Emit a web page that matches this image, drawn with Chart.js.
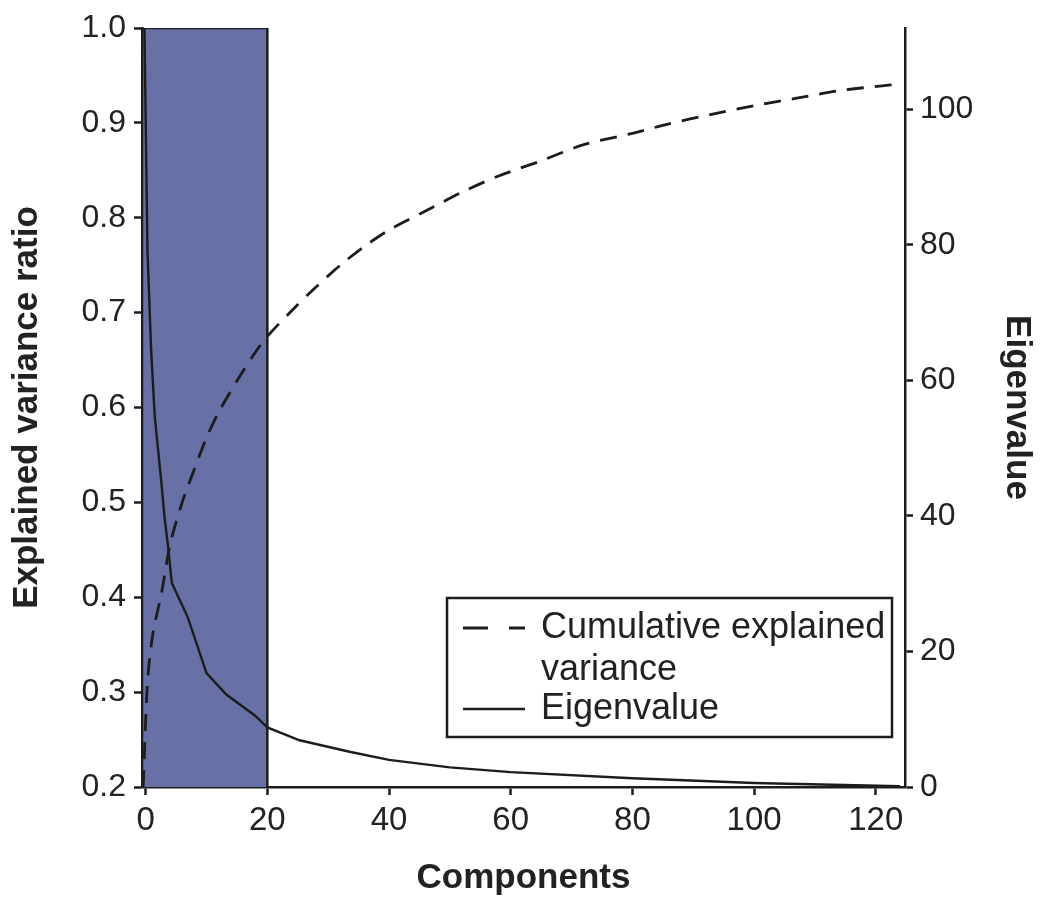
<!DOCTYPE html>
<html>
<head>
<meta charset="utf-8">
<script src="https://cdn.jsdelivr.net/npm/chart.js@4.4.0/dist/chart.umd.min.js"></script>
<style>
  body { margin: 0; background: #fff; }
</style>
</head>
<body>
<canvas id="chart" width="1042" height="901"></canvas>
<script>
// tick labels
const componentTicks = [0, 20, 40, 60, 80, 100, 120];
const ratioTicks = [0.2, 0.3, 0.4, 0.5, 0.6, 0.7, 0.8, 0.9, 1.0];
const eigenTicks = [0, 20, 40, 60, 80, 100];

// axis ranges
const componentRange = [-0.6, 124.8];
const ratioRange = [0.2, 1.0];
const eigenRange = [0, 112];

// retained components (shaded block)
const retainedUpTo = 20;

// cumulative explained variance (left axis)
const cumComponents = [-0.4, 0.3, 1.2, 2.6, 4, 6, 8, 10, 12, 15, 18, 20, 24, 28, 32, 36, 40, 46, 52, 58, 65, 72, 80, 86, 93, 100, 107, 114, 121, 124];
const cumRatio = [0.2, 0.31, 0.362, 0.404, 0.455, 0.5, 0.535, 0.568, 0.595, 0.628, 0.658, 0.675, 0.702, 0.727, 0.75, 0.77, 0.787, 0.807, 0.827, 0.844, 0.86, 0.877, 0.889, 0.899, 0.909, 0.918, 0.926, 0.934, 0.939, 0.941];

// eigenvalues (right axis)
const eigComponents = [-0.2, 0.3, 0.9, 1.5, 2.6, 3.1, 3.7, 4.3, 6.9, 10, 13.3, 17.9, 20, 25.3, 33.5, 40, 50, 60, 80, 100, 124];
const eigValues = [112, 79, 64.5, 54.6, 44.8, 39.8, 35.4, 30.1, 25.1, 16.8, 13.6, 10.6, 8.8, 6.9, 5.2, 4.0, 2.9, 2.2, 1.3, 0.6, 0.1];

const ink = '#1c1c1c';

function pts(xs, ys) {
  return xs.map((x, i) => ({ x: x, y: ys[i] }));
}

function fixTicks(values) {
  return function (scale) {
    scale.ticks = values.map(v => ({ value: v }));
  };
}

const boxLegend = {
  id: 'boxLegend',
  afterDraw(chart) {
    const ctx = chart.ctx;
    const a = chart.chartArea;
    const x0 = a.right - 458, y0 = a.bottom - 189, w = 445, h = 139;
    ctx.save();
    ctx.fillStyle = '#fff';
    ctx.fillRect(x0, y0, w, h);
    ctx.strokeStyle = ink;
    ctx.lineWidth = 2.5;
    ctx.strokeRect(x0, y0, w, h);

    ctx.font = '36px "Liberation Sans", Arial, sans-serif';
    ctx.fillStyle = '#222';
    ctx.textBaseline = 'middle';
    const rows = [
      { ds: chart.data.datasets[0], lines: ['Cumulative explained', 'variance'], y: 30, dash: [25, 21] },
      { ds: chart.data.datasets[1], lines: ['Eigenvalue'], y: 111, dash: [] }
    ];
    rows.forEach(r => {
      ctx.beginPath();
      ctx.setLineDash(r.dash);
      ctx.lineWidth = r.ds.borderWidth;
      ctx.strokeStyle = r.ds.borderColor;
      ctx.moveTo(x0 + 16, y0 + r.y);
      ctx.lineTo(x0 + 78, y0 + r.y);
      ctx.stroke();
      ctx.setLineDash([]);
      r.lines.forEach((t, i) => ctx.fillText(t, x0 + 94, y0 + r.y + i * 42));
    });
    ctx.restore();
  }
};

new Chart(document.getElementById('chart'), {
  type: 'line',
  data: {
    datasets: [
      {
        label: 'Cumulative explained variance',
        data: pts(cumComponents, cumRatio),
        yAxisID: 'y',
        borderColor: ink,
        borderWidth: 2.8,
        borderDash: [17, 11],
        pointRadius: 0,
        tension: 0.3,
        order: 1
      },
      {
        label: 'Eigenvalue',
        data: pts(eigComponents, eigValues),
        yAxisID: 'y1',
        borderColor: ink,
        borderWidth: 2.4,
        pointRadius: 0,
        tension: 0,
        order: 0
      },
      {
        label: 'Retained',
        data: [
          { x: componentRange[0], y: ratioRange[0] },
          { x: componentRange[0], y: ratioRange[1] },
          { x: retainedUpTo, y: ratioRange[1] },
          { x: retainedUpTo, y: ratioRange[0] }
        ],
        yAxisID: 'y',
        borderColor: ink,
        borderWidth: 2.5,
        backgroundColor: '#6871a6',
        fill: 'start',
        pointRadius: 0,
        tension: 0,
        order: 3
      }
    ]
  },
  options: {
    responsive: false,
    animation: false,
    layout: { padding: { top: 28, left: 0, right: 0, bottom: 0 } },
    plugins: {
      legend: { display: false },
      tooltip: { enabled: false }
    },
    scales: {
      x: {
        type: 'linear',
        min: componentRange[0],
        max: componentRange[1],
        afterBuildTicks: fixTicks(componentTicks),
        afterFit(s) { s.height = 114; },
        border: { display: true, color: ink, width: 2.5 },
        grid: { drawOnChartArea: false, tickLength: 8, tickColor: ink, tickWidth: 2.5 },
        ticks: {
          color: '#222', padding: 6, maxRotation: 0,
          font: { family: '"Liberation Sans", Arial, sans-serif', size: 33 }
        },
        title: {
          display: true, text: 'Components', color: '#222', padding: { top: 0, bottom: 2 },
          font: { family: '"Liberation Sans", Arial, sans-serif', size: 35, weight: 'bold' }
        }
      },
      y: {
        type: 'linear',
        position: 'left',
        min: ratioRange[0],
        max: ratioRange[1],
        afterBuildTicks: fixTicks(ratioTicks),
        afterFit(s) { s.width = 142; },
        border: { display: true, color: ink, width: 2.5 },
        grid: { drawOnChartArea: false, tickLength: 8, tickColor: ink, tickWidth: 2.5 },
        ticks: {
          color: '#222', padding: 8,
          callback: v => v.toFixed(1),
          font: { family: '"Liberation Sans", Arial, sans-serif', size: 32 }
        },
        title: {
          display: true, text: 'Explained variance ratio', color: '#222', padding: { top: 6, bottom: 0 },
          font: { family: '"Liberation Sans", Arial, sans-serif', size: 35, weight: 'bold' }
        }
      },
      y1: {
        type: 'linear',
        position: 'right',
        min: eigenRange[0],
        max: eigenRange[1],
        afterBuildTicks: fixTicks(eigenTicks),
        afterFit(s) { s.width = 137; },
        border: { display: true, color: ink, width: 2.5 },
        grid: { drawOnChartArea: false, tickLength: 8, tickColor: ink, tickWidth: 2.5 },
        ticks: {
          color: '#222', padding: 7,
          font: { family: '"Liberation Sans", Arial, sans-serif', size: 32 }
        },
        title: {
          display: true, text: 'Eigenvalue', color: '#222', padding: { top: 4, bottom: 0 },
          font: { family: '"Liberation Sans", Arial, sans-serif', size: 35, weight: 'bold' }
        }
      }
    }
  },
  plugins: [boxLegend]
});
</script>
</body>
</html>
